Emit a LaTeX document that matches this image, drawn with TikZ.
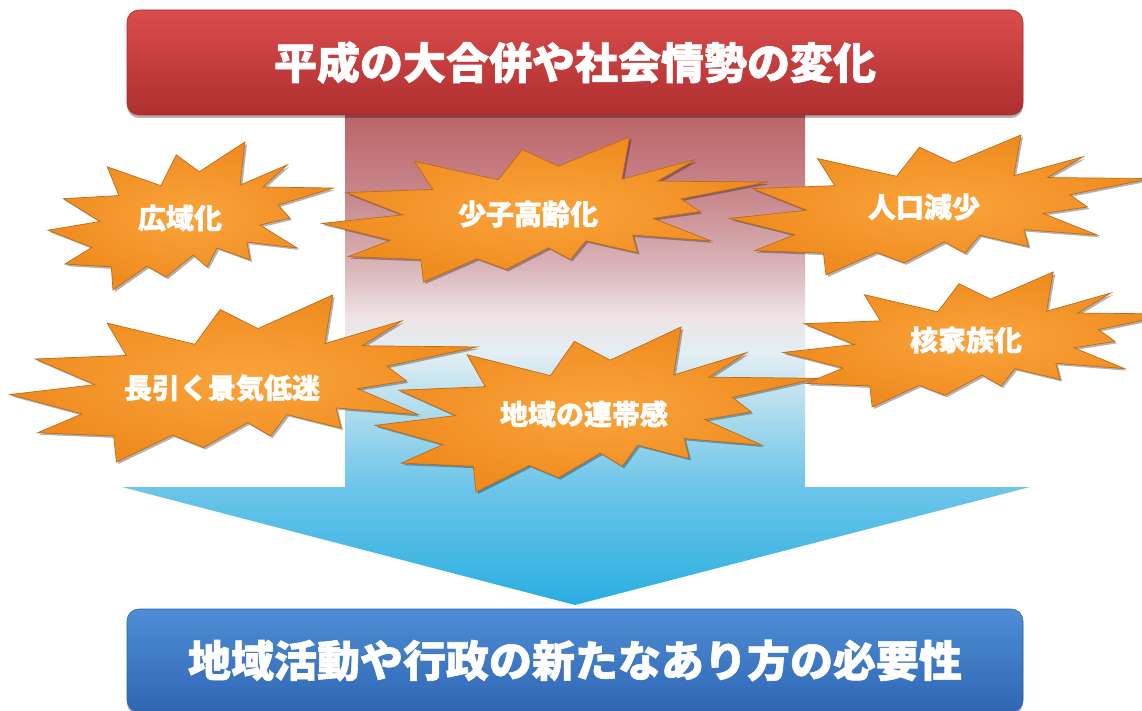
\documentclass[tikz,border=0pt]{standalone}
\usepackage{fontspec}
\newfontfamily\jp{Noto Sans CJK JP}[BoldFeatures={FakeBold=1.5}]
\usetikzlibrary{shadows}
\definecolor{ac1}{HTML}{2AAEE0}
\definecolor{ac2}{HTML}{6CC5EA}
\definecolor{ac3}{HTML}{9BD5EC}
\definecolor{ac4}{HTML}{E2EEF3}
\definecolor{ac5}{HTML}{EEE4E6}
\definecolor{ac6}{HTML}{D9B5B9}
\definecolor{ac7}{HTML}{C98A8F}
\definecolor{ac8}{HTML}{BC6469}
\definecolor{redtop}{HTML}{DC4C4C}
\definecolor{redbot}{HTML}{AE2F2F}
\definecolor{redline}{HTML}{A82C2C}
\definecolor{bluetop}{HTML}{4F8DD6}
\definecolor{bluebot}{HTML}{2F66B3}
\definecolor{blueline}{HTML}{2D5FA6}
\definecolor{burstin}{HTML}{FAA43C}
\definecolor{burstout}{HTML}{EF8B1F}
\definecolor{burstedge}{HTML}{C06A14}
\pgfdeclareverticalshading{arrowshade}{100bp}{color(0bp)=(ac1); color(25bp)=(ac1); color(37bp)=(ac2); color(42.5bp)=(ac3); color(50.7bp)=(ac4); color(54.4bp)=(ac5); color(59.5bp)=(ac6); color(66.3bp)=(ac7); color(75bp)=(ac8); color(100bp)=(ac8)}
\tikzset{
  burst/.style={draw=burstedge, line width=0.7pt, line join=miter, inner color=burstin, outer color=burstout,
    drop shadow={shadow xshift=2pt, shadow yshift=-2pt, opacity=0.3, fill=black}},
  bursttext/.style={text=white, font=\jp\bfseries\fontsize{28}{28}\selectfont, inner sep=0pt},
  headbox/.style={rounded corners=12pt, minimum width=896pt, inner sep=0pt, text=white,
    font=\jp\bfseries\fontsize{43}{43}\selectfont,
    drop shadow={shadow xshift=0pt, shadow yshift=-3pt, opacity=0.3, fill=black}},
  redbox/.style={headbox, minimum height=105pt, top color=redtop, bottom color=redbot, draw=redline, line width=0.6pt},
  bluebox/.style={headbox, minimum height=103pt, top color=bluetop, bottom color=bluebot, draw=blueline, line width=0.6pt},
  bigarrow/.style={shading=arrowshade}
}
\newcommand\burstat[4]{%
  \path[burst] ({#1+0.531*#3},{#2+0.201*#4}) -- ({#1+0.450*#3},{#2+0.087*#4})
   -- ({#1+0.396*#3},{#2+0.295*#4}) -- ({#1+0.208*#3},{#2+0.168*#4})
   -- ({#1+0.249*#3},{#2+0.362*#4}) -- ({#1+0.054*#3},{#2+0.383*#4})
   -- ({#1+0.182*#3},{#2+0.537*#4}) -- ({#1+0.000*#3},{#2+0.596*#4})
   -- ({#1+0.154*#3},{#2+0.712*#4}) -- ({#1+0.059*#3},{#2+0.825*#4})
   -- ({#1+0.222*#3},{#2+0.844*#4}) -- ({#1+0.228*#3},{#2+1.000*#4})
   -- ({#1+0.348*#3},{#2+0.839*#4}) -- ({#1+0.414*#3},{#2+0.913*#4})
   -- ({#1+0.509*#3},{#2+0.764*#4}) -- ({#1+0.558*#3},{#2+0.845*#4})
   -- ({#1+0.593*#3},{#2+0.716*#4}) -- ({#1+0.709*#3},{#2+0.797*#4})
   -- ({#1+0.698*#3},{#2+0.676*#4}) -- ({#1+0.874*#3},{#2+0.716*#4})
   -- ({#1+0.744*#3},{#2+0.561*#4}) -- ({#1+0.849*#3},{#2+0.514*#4})
   -- ({#1+0.807*#3},{#2+0.426*#4}) -- ({#1+1.000*#3},{#2+0.311*#4})
   -- ({#1+0.754*#3},{#2+0.304*#4}) -- ({#1+0.839*#3},{#2+0.155*#4})
   -- ({#1+0.674*#3},{#2+0.291*#4}) -- ({#1+0.691*#3},{#2+0.000*#4}) -- cycle;}
\begin{document}
\begin{tikzpicture}[x=1pt,y=-1pt]
\useasboundingbox (0,0) rectangle (1142,711);
\fill[white] (0,0) rectangle (1142,711);
% big downward arrow
\path[bigarrow] (345,115) -- (805,115) -- (805,487) -- (1030,487) -- (575,605) -- (122,487) -- (345,487) -- cycle;
% top and bottom boxes
\node[redbox] (cause) at (575,62.5) {平成の大合併や社会情勢の変化};
\node[bluebox] (result) at (575,660.5) {地域活動や行政の新たなあり方の必要性};
% bursts
\burstat{48}{142}{285}{148}
\node[bursttext] (b1) at (180,218) {広域化};
\burstat{322}{137}{445}{145}
\node[bursttext] (b2) at (528,214) {少子高齢化};
\burstat{730}{135}{421}{140}
\node[bursttext] (b3) at (924,207) {人口減少};
\burstat{10}{295}{467}{167}
\node[bursttext] (b4) at (222,388) {長引く景気低迷};
\burstat{375}{327}{443}{165}
\node[bursttext] (b5) at (584,414) {地域の連帯感};
\burstat{783}{272}{391}{135}
\node[bursttext] (b6) at (966,340) {核家族化};
\end{tikzpicture}
\end{document}
